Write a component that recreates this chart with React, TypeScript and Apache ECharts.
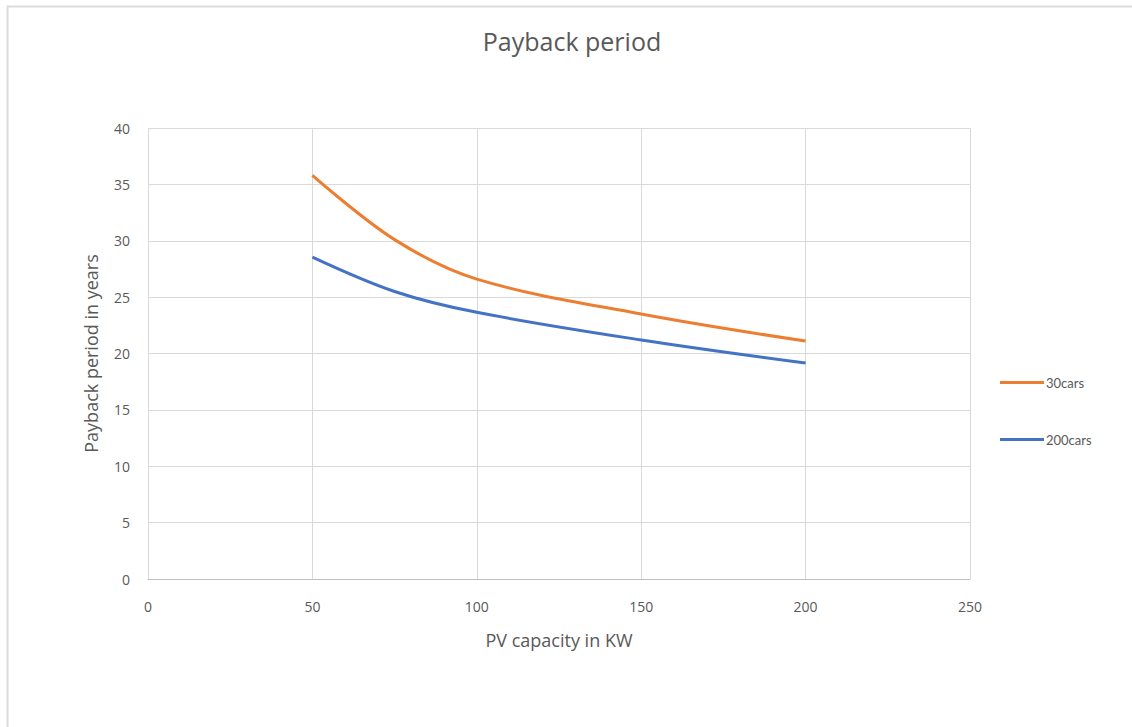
import React, { useEffect, useRef } from "react";
import * as echarts from "echarts";

// PV capacity (kW) at which the payback period was evaluated
const capacities = [50, 75, 100, 150, 200];
// Payback period in years for each fleet size
const cars30 = [35.8, 30.1, 26.6, 23.5, 21.1];
const cars200 = [28.55, 25.5, 23.65, 21.2, 19.15];

const seriesNames = ["30cars", "200cars"];
const seriesColors = ["#ED7D31", "#4472C4"];

const xTicks = { min: 0, max: 250, interval: 50 };
const yTicks = { min: 0, max: 40, interval: 5 };

const FONT = "'Open Sans', Lato, sans-serif";
const LEGEND_FONT = "Lato, 'Open Sans', sans-serif";
const TEXT = "#595959";

export default function App() {
  const ref = useRef<HTMLDivElement>(null);

  useEffect(() => {
    if (!ref.current) return;
    const chart = echarts.init(ref.current, undefined, { renderer: "svg" });
    const toPairs = (ys: number[]) => capacities.map((x, i) => [x, ys[i]]);

    chart.setOption({
      animation: false,
      backgroundColor: "#ffffff",
      textStyle: { fontFamily: FONT },
      title: {
        text: "Payback period",
        left: 567,
        textAlign: "center",
        top: 23,
        textStyle: { fontFamily: FONT, fontSize: 25, fontWeight: "normal", color: TEXT },
      },
      graphic: [
        {
          type: "rect",
          left: 5,
          top: 4,
          shape: { width: 1140, height: 740 },
          style: { fill: "none", stroke: "#dcdcdc", lineWidth: 2 },
          silent: true,
        },
      ],
      legend: {
        orient: "vertical",
        left: 1000,
        top: 376,
        padding: 0,
        itemWidth: 44,
        itemHeight: 3,
        itemGap: 44,
        icon: "rect",
        textStyle: { fontFamily: LEGEND_FONT, fontSize: 13, color: TEXT, padding: [0, 0, 0, -3] },
        data: seriesNames,
      },
      grid: { left: 148, right: 162, top: 128, bottom: 148, containLabel: false },
      xAxis: {
        type: "value",
        ...xTicks,
        name: "PV capacity in KW",
        nameLocation: "middle",
        nameGap: 52,
        nameTextStyle: { fontFamily: FONT, fontSize: 18, color: TEXT },
        axisLine: { show: true, lineStyle: { color: "#bfbfbf", width: 1 } },
        axisTick: { show: false },
        axisLabel: { fontFamily: FONT, fontSize: 14, color: TEXT, margin: 20 },
        splitLine: { show: true, lineStyle: { color: "#d9d9d9", width: 1 } },
      },
      yAxis: {
        type: "value",
        ...yTicks,
        name: "Payback period in years",
        nameLocation: "middle",
        nameGap: 48,
        nameTextStyle: { fontFamily: FONT, fontSize: 18, color: TEXT },
        axisLine: { show: false },
        axisTick: { show: false },
        axisLabel: { fontFamily: FONT, fontSize: 14, color: TEXT, margin: 18 },
        splitLine: { show: true, lineStyle: { color: "#d9d9d9", width: 1 } },
      },
      series: [
        {
          name: seriesNames[0],
          type: "line",
          data: toPairs(cars30),
          smooth: 0.35,
          showSymbol: false,
          symbol: "none",
          lineStyle: { color: seriesColors[0], width: 3 },
          itemStyle: { color: seriesColors[0] },
        },
        {
          name: seriesNames[1],
          type: "line",
          data: toPairs(cars200),
          smooth: 0.35,
          showSymbol: false,
          symbol: "none",
          lineStyle: { color: seriesColors[1], width: 3 },
          itemStyle: { color: seriesColors[1] },
        },
      ],
    });

    return () => chart.dispose();
  }, []);

  return (
    <div
      ref={ref}
      style={{ position: "fixed", left: 0, top: 0, width: 1132, height: 727 }}
    />
  );
}
